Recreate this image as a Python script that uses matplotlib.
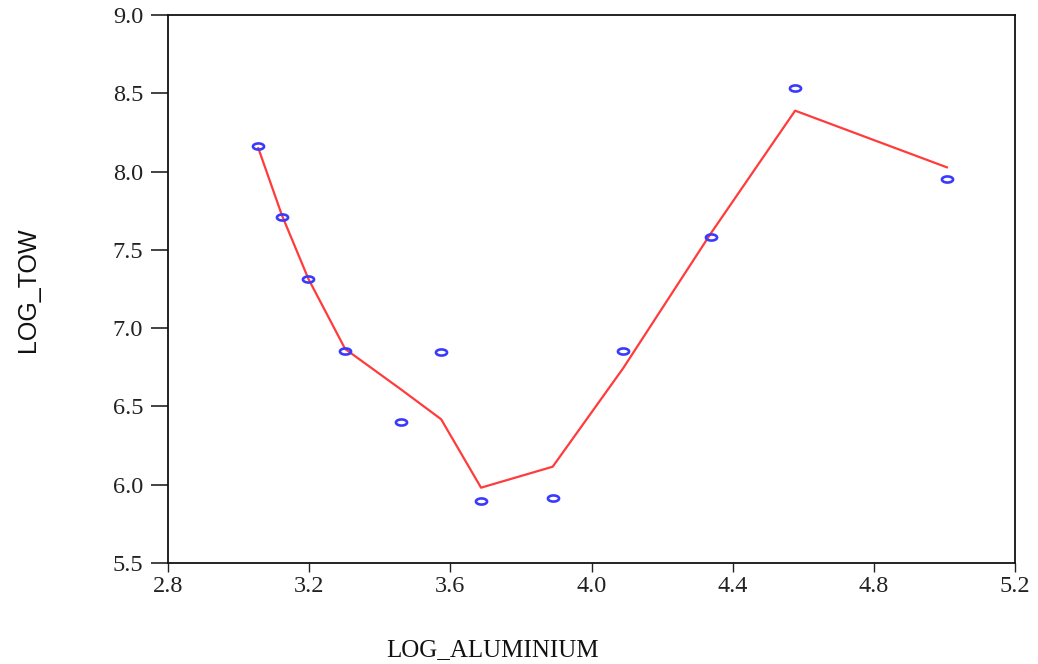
import numpy as np
import matplotlib
matplotlib.use("Agg")
import matplotlib.pyplot as plt
from matplotlib.path import Path

# Data
log_aluminium = [3.056, 3.123, 3.198, 3.302, 3.460, 3.574, 3.687, 3.890, 4.090, 4.339, 4.577, 5.007]
log_tow       = [8.163, 7.712, 7.314, 6.854, 6.402, 6.848, 5.896, 5.915, 6.854, 7.584, 8.532, 7.951]
fit_tow       = [8.149, 7.720, 7.314, 6.867, 6.609, 6.418, 5.981, 6.115, 6.745, 7.608, 8.389, 8.027]

xticks = [2.8, 3.2, 3.6, 4.0, 4.4, 4.8, 5.2]
yticks = [5.5, 6.0, 6.5, 7.0, 7.5, 8.0, 8.5, 9.0]

fig = plt.figure(figsize=(10.38, 6.64), dpi=100)
ax = fig.add_axes([168/1038, 1 - 563/664, 847/1038, 548/664])

t = np.linspace(0, 2*np.pi, 40)
ell = Path(np.column_stack([np.cos(t), 0.55*np.sin(t)]), closed=True)

ax.plot(log_aluminium, fit_tow, color='#ff3b3b', lw=1.6, zorder=2)
ax.plot(log_aluminium, log_tow, linestyle='none', marker=ell, markersize=8,
        markerfacecolor='none', markeredgecolor='#3a3aff', markeredgewidth=1.9, zorder=3)

ax.set_xlim(2.8, 5.2)
ax.set_ylim(5.5, 9.0)
ax.set_xticks(xticks)
ax.set_yticks(yticks)
ax.set_xticklabels([f"{v:.1f}" for v in xticks], family='Liberation Serif', fontsize=17.5)
ax.set_yticklabels([f"{v:.1f}" for v in yticks], family='Liberation Serif', fontsize=17.5)
ax.tick_params(axis='y', length=12, width=1.2, pad=6, colors='#222222')
ax.tick_params(axis='x', length=6.5, width=1.0, pad=3, colors='#222222')
for s in ax.spines.values():
    s.set_linewidth(1.3)
    s.set_color('#111111')

fig.text(493/1038, 1 - 650/664, "LOG_ALUMINIUM", family='Liberation Serif', fontsize=18,
         ha='center', va='center', color='#111111')
fig.text(28/1038, 1 - 290/664, "LOG_TOW", family='Liberation Sans', fontsize=18,
         rotation=90, ha='center', va='center', color='#111111')

fig.savefig("out.png", dpi=100)
